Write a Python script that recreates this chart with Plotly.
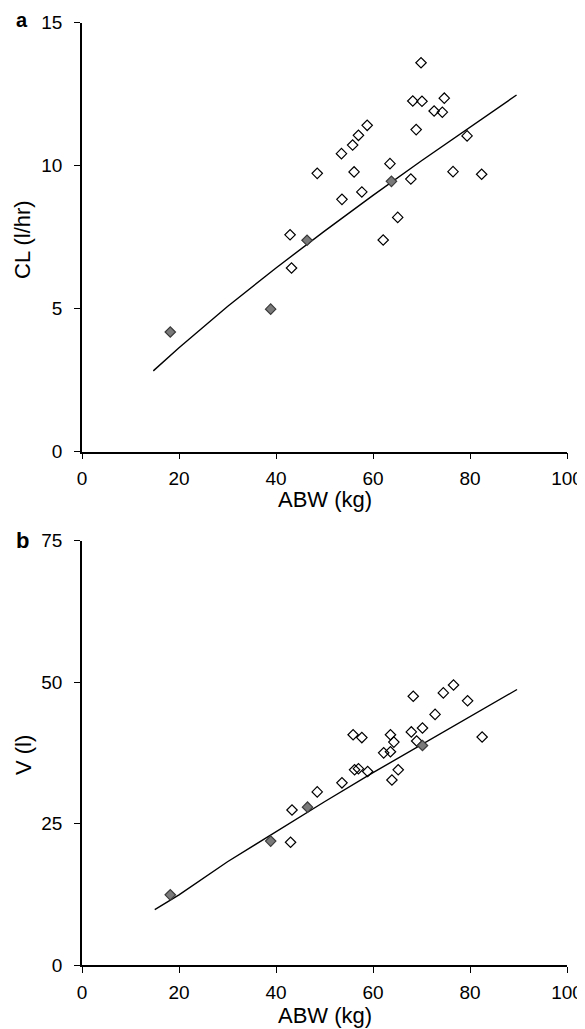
import plotly.graph_objects as go

# ---------------- Data ----------------
# Panel a: CL (l/hr) vs ABW (kg)
a_open_x = [69.9, 68.2, 70.1, 74.7, 72.6, 74.3, 68.9, 79.4, 58.8, 57.0, 55.8, 53.5,
            63.5, 48.5, 56.1, 76.5, 82.4, 67.8, 57.7, 53.6, 65.1, 42.9, 62.1, 43.2]
a_open_y = [13.6, 12.26, 12.25, 12.36, 11.91, 11.87, 11.26, 11.04, 11.41, 11.06, 10.72, 10.42,
            10.07, 9.73, 9.78, 9.79, 9.70, 9.53, 9.08, 8.82, 8.19, 7.58, 7.40, 6.42]
a_fill_x = [18.2, 38.9, 46.4, 63.8]
a_fill_y = [4.18, 4.98, 7.39, 9.45]
a_fit_x = [14.7, 20, 30, 40, 50, 60, 70, 80, 89.6]
a_fit_y = [2.82, 3.63, 5.07, 6.42, 7.71, 8.96, 10.17, 11.35, 12.47]

# Panel b: V (l) vs ABW (kg)
b_open_x = [76.6, 74.5, 68.3, 79.5, 72.8, 70.2, 67.9, 55.9, 63.6, 57.7, 82.5, 64.3,
            69.0, 62.2, 63.6, 56.2, 57.0, 58.9, 65.2, 63.9, 53.6, 48.5, 43.3, 43.0]
b_open_y = [49.5, 48.1, 47.5, 46.7, 44.3, 41.9, 41.2, 40.7, 40.7, 40.2, 40.3, 39.4,
            39.6, 37.5, 37.7, 34.5, 34.7, 34.2, 34.5, 32.7, 32.2, 30.6, 27.4, 21.7]
b_fill_x = [18.2, 38.9, 46.5, 70.2]
b_fill_y = [12.4, 21.9, 27.9, 38.8]
b_fit_x = [15.0, 20, 30, 40, 50, 60, 70, 80, 89.7]
b_fit_y = [9.8, 12.4, 18.25, 23.6, 28.86, 34.0, 39.0, 43.9, 48.7]

x_ticks = [0, 20, 40, 60, 80, 100]
a_y_ticks = [0, 5, 10, 15]
b_y_ticks = [0, 25, 50, 75]
x_title = "ABW (kg)"
a_y_title = "CL (l/hr)"
b_y_title = "V (l)"
panel_labels = ["a", "b"]

# ---------------- Figure ----------------
FONT = "Liberation Sans, Arial, Helvetica, sans-serif"
OFF = 8  # default page margin of the HTML body
W, H = 585 - OFF, 1029 - OFF
ML, MR, MT, MB = 82 - OFF, W - (567 - OFF), 22 - OFF, H - (965 - OFF)
PW, PH = W - ML - MR, H - MT - MB


def px(xw):
    """window pixel x -> paper coordinate"""
    return (xw - OFF - ML) / PW


def py(yw):
    """window pixel y -> paper coordinate"""
    return (H - MB - (yw - OFF)) / PH


fig = go.Figure()

open_marker = dict(symbol="diamond-open", size=8, color="black", line=dict(width=1.2, color="black"))
fill_marker = dict(symbol="diamond", size=8, color="#7a7a7a", line=dict(width=1.2, color="#3a3a3a"))

panels = [
    ("x", "y", a_fit_x, a_fit_y, a_open_x, a_open_y, a_fill_x, a_fill_y),
    ("x2", "y2", b_fit_x, b_fit_y, b_open_x, b_open_y, b_fill_x, b_fill_y),
]
for xa, ya, fx, fy, ox, oy, sx, sy in panels:
    fig.add_trace(go.Scatter(x=fx, y=fy, mode="lines", line=dict(color="black", width=1.4),
                             xaxis=xa, yaxis=ya, showlegend=False, hoverinfo="skip"))
    fig.add_trace(go.Scatter(x=ox, y=oy, mode="markers", marker=open_marker,
                             xaxis=xa, yaxis=ya, showlegend=False))
    fig.add_trace(go.Scatter(x=sx, y=sy, mode="markers", marker=fill_marker,
                             xaxis=xa, yaxis=ya, showlegend=False))

axis_common = dict(showgrid=False, zeroline=False, showline=True, linecolor="black", linewidth=1.5,
                   ticks="outside", ticklen=6, tickwidth=1.3, tickcolor="black", automargin=False,
                   tickfont=dict(family=FONT, size=19, color="black"))

fig.update_layout(
    width=W, height=H,
    margin=dict(l=ML, r=MR, t=MT, b=MB),
    plot_bgcolor="white", paper_bgcolor="white",
    xaxis=dict(domain=[0, 1], range=[0, 100], tickvals=x_ticks, ticktext=[str(v) for v in x_ticks],
               anchor="y", ticklabelstandoff=3, **axis_common),
    yaxis=dict(domain=[py(451.5), py(22.7)], range=[0, 15], tickvals=a_y_ticks,
               ticktext=[str(v) for v in a_y_ticks], anchor="x", ticklabelstandoff=8, **axis_common),
    xaxis2=dict(domain=[0, 1], range=[0, 100], tickvals=x_ticks, ticktext=[str(v) for v in x_ticks],
                anchor="y2", ticklabelstandoff=3, **axis_common),
    yaxis2=dict(domain=[py(965), py(540.7)], range=[0, 75], tickvals=b_y_ticks,
                ticktext=[str(v) for v in b_y_ticks], anchor="x2", ticklabelstandoff=8, **axis_common),
)

title_font = dict(family=FONT, size=22, color="black")
# axis titles
fig.add_annotation(text=x_title, x=px(325), y=py(500), xref="paper", yref="paper", showarrow=False,
                   font=title_font, xanchor="center", yanchor="middle")
fig.add_annotation(text=x_title, x=px(325), y=py(1016), xref="paper", yref="paper", showarrow=False,
                   font=title_font, xanchor="center", yanchor="middle")
fig.add_annotation(text=a_y_title, x=px(23), y=py(240), xref="paper", yref="paper", showarrow=False,
                   font=title_font, textangle=-90, xanchor="center", yanchor="middle")
fig.add_annotation(text=b_y_title, x=px(23), y=py(755), xref="paper", yref="paper", showarrow=False,
                   font=title_font, textangle=-90, xanchor="center", yanchor="middle")
# panel labels
fig.add_annotation(text="<b>%s</b>" % panel_labels[0], x=px(22), y=py(20), xref="paper", yref="paper",
                   showarrow=False, font=dict(family=FONT, size=20, color="black"),
                   xanchor="center", yanchor="middle")
fig.add_annotation(text="<b>%s</b>" % panel_labels[1], x=px(22), y=py(540), xref="paper", yref="paper",
                   showarrow=False, font=dict(family=FONT, size=22, color="black"),
                   xanchor="center", yanchor="middle")

fig.write_html("out.html")
